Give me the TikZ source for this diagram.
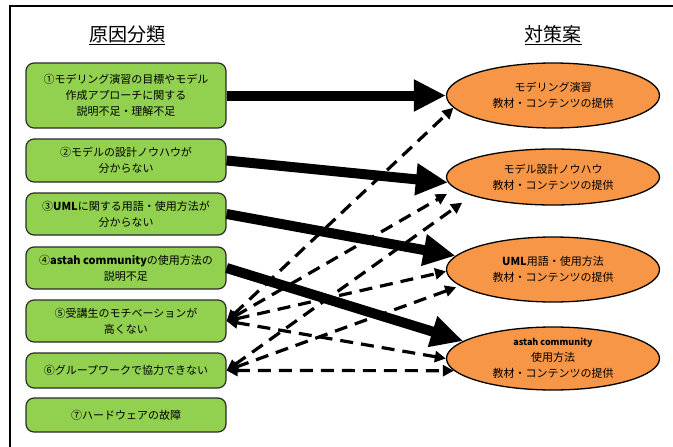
\documentclass[tikz,border=0pt]{standalone}
\usepackage{fontspec}
\setmainfont{Noto Sans CJK JP}
\usetikzlibrary{arrows.meta,shapes.geometric}
\definecolor{boxgreen}{HTML}{92D050}
\definecolor{ellorange}{HTML}{F79646}
\definecolor{edgegray}{HTML}{2B2B2B}
\begin{document}
\begin{tikzpicture}[x=1pt,y=-1pt,
  cause/.style={draw=edgegray,line width=1.2pt,fill=boxgreen,rounded corners=8pt,
    minimum width=200pt,align=center,inner sep=0pt,font=\fontsize{11}{16}\selectfont},
  measure/.style={ellipse,draw=black,line width=1.3pt,fill=ellorange,minimum width=213pt,
    align=center,inner sep=0pt,font=\fontsize{11}{16}\selectfont},
  heading/.style={font=\fontsize{19}{22}\selectfont,inner sep=0pt},
  strong/.style={line width=10pt,-{Triangle[length=32pt,width=30pt]}},
  weak/.style={line width=3.2pt,dash pattern=on 13pt off 8pt,
    {Triangle[length=11pt,width=11pt]}-{Triangle[length=11pt,width=11pt]}},
  frame/.style={line width=2.5pt}]
\useasboundingbox (0,0) rectangle (673,447);
\fill[white] (0,0) rectangle (673,447);
\draw[frame] (10,447) -- (10,6) -- (673,6);

\node[heading] (t1) at (127,35) {\underline{原因分類}};
\node[heading] (t2) at (553,35) {\underline{対策案}};

\node[cause,minimum height=65pt] (b1) at (126,95.5) {①モデリング演習の目標やモデル\\作成アプローチに関する\\説明不足・理解不足};
\node[cause,minimum height=43pt] (b2) at (126,160.5) {②モデルの設計ノウハウが\\分からない};
\node[cause,minimum height=42pt] (b3) at (126,214) {③{\bfseries UML}に関する用語・使用方法が\\分からない};
\node[cause,minimum height=42pt] (b4) at (126,268) {④{\bfseries astah community}の使用方法の\\説明不足};
\node[cause,minimum height=42pt] (b5) at (126,321) {⑤受講生のモチベーションが\\高くない};
\node[cause,minimum height=35pt] (b6) at (126,370.5) {⑥グループワークで協力できない};
\node[cause,minimum height=34pt] (b7) at (126,415) {⑦ハードウェアの故障};

\node[measure,minimum height=65pt] (e1) at (553,95.5) {モデリング演習\\教材・コンテンツの提供};
\node[measure,minimum height=56pt] (e2) at (553,177) {モデル設計ノウハウ\\教材・コンテンツの提供};
\node[measure,minimum height=65pt] (e3) at (553,269.5) {{\bfseries UML}用語・使用方法\\教材・コンテンツの提供};
\node[measure,minimum height=63pt] (e4) at (553,358.5) {{\fontsize{9}{13}\selectfont\bfseries astah community}\\使用方法\\教材・コンテンツの提供};

\draw[weak] (b5.east) -- (e1.187);
\draw[weak,shorten >=10pt] (b5.east) -- (e2.187);
\draw[weak,shorten >=12pt] (b6.east) -- (e2.193);
\draw[weak] (b5.east) -- (e3.181);
\draw[weak,shorten >=4pt] (b6.east) -- (e3.190);
\draw[weak] (b5.east) -- (e4.180);
\draw[weak] (b6.east) -- (e4.187);

\draw[strong] (b1.east) -- (e1.west);
\draw[strong] (b2.east) -- (e2.183);
\draw[strong] (b3.east) -- (e3.172);
\draw[strong] (b4.east) -- (e4.169);
\end{tikzpicture}
\end{document}
